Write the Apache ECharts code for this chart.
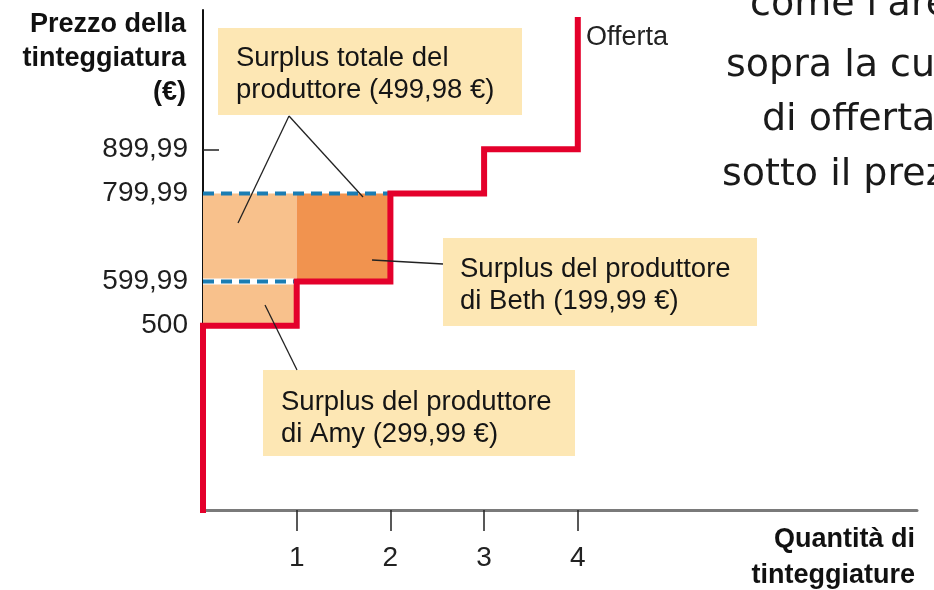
<!DOCTYPE html>
<html>
<head>
<meta charset="utf-8">
<script src="https://cdn.jsdelivr.net/npm/echarts@6/dist/echarts.min.js"></script>
<style>html,body{margin:0;padding:0;background:#fff;}#c{width:934px;height:590px;}</style>
</head>
<body>
<div id="c"></div>
<script>
// ---- data ----
const sellers = ['Amy', 'Beth', 'Venditore 3', 'Venditore 4'];
const costs = [500, 599.99, 799.99, 899.99];       // cost of each seller (supply steps)
const marketPrice = 799.99;
const supplyStart = 0;                              // price where the curve starts (axis)
const supplyEnd = 1200;                             // price where the curve ends (top)
const xTickValues = [1, 2, 3, 4];
const yTickValues = [500, 599.99, 799.99, 899.99];
const yTickLabels = ['500', '599,99', '799,99', '899,99'];
const surplusAreas = [ // [qFrom, qTo, priceFrom, priceTo]
  [0, 1, 500, 799.99],
  [1, 2, 599.99, 799.99]
];
const surplusColors = ['#F8C18C', '#F1934F'];

// supply step curve built from costs
const supply = [[0, supplyStart]];
costs.forEach((c, i) => { supply.push([i, c]); supply.push([i + 1, c]); });
supply.push([costs.length, supplyEnd]);

const FONT = 'Liberation Sans, Arial, sans-serif';
const SIDE = '38px DejaVu Sans, sans-serif';
const chart = echarts.init(document.getElementById('c'), null, {renderer: 'canvas'});

function box(x, y, w, h, lines, tx, ty) {
  return [
    {type: 'rect', shape: {x: x, y: y, width: w, height: h}, style: {fill: '#FDE7B4'}, z: 10},
    {type: 'text', x: tx, y: ty, z: 11, style: {text: lines, font: '27.5px ' + FONT, fill: '#151515',
      lineHeight: 32, verticalAlign: 'top', align: 'left'}}
  ];
}
function lead(x1, y1, x2, y2) {
  return {type: 'line', shape: {x1: x1, y1: y1, x2: x2, y2: y2}, z: 12,
    style: {stroke: '#222', lineWidth: 1.3}};
}

const option = {
  animation: false,
  backgroundColor: '#fff',
  textStyle: {fontFamily: FONT},
  grid: {left: 203, top: 10, right: 17, bottom: 80, containLabel: false, outerBoundsMode: 'none'},
  xAxis: {
    type: 'value', min: 0, max: 7.62,
    name: 'Quantità di\ntinteggiature', nameLocation: 'end', nameGap: 0,
    nameTextStyle: {fontFamily: FONT, fontWeight: 'bold', fontSize: 27, color: '#111', align: 'right',
      verticalAlign: 'top', lineHeight: 36, padding: [12, 2, 0, 0]},
    axisLine: {lineStyle: {color: '#7a7a7a', width: 3}},
    axisTick: {show: true, customValues: xTickValues, length: 21, inside: false,
      lineStyle: {color: '#222', width: 1.5}},
    axisLabel: {customValues: xTickValues, fontSize: 28, color: '#222', margin: 34, fontFamily: FONT},
    splitLine: {show: false}
  },
  yAxis: {
    type: 'value', min: 82, max: 1216,
    name: 'Prezzo della\ntinteggiatura\n(€)', nameLocation: 'end', nameGap: 2,
    nameTextStyle: {fontFamily: FONT, fontWeight: 'bold', fontSize: 27, color: '#111', align: 'right',
      verticalAlign: 'top', lineHeight: 34, padding: [0, 17, 0, 0]},
    axisLine: {show: true, lineStyle: {color: '#111', width: 2}},
    axisTick: {show: true, inside: true, customValues: [899.99], length: 16,
      lineStyle: {color: '#222', width: 1.5}},
    axisLabel: {customValues: yTickValues, fontSize: 28, color: '#1e1e1e', margin: 15, fontFamily: FONT,
      formatter: v => { const i = yTickValues.findIndex(t => Math.abs(t - v) < 1e-6); return i >= 0 ? yTickLabels[i] : ''; }},
    splitLine: {show: false}
  },
  series: [
    {
      type: 'custom', silent: true, z: 1,
      data: surplusAreas,
      renderItem: (params, api) => {
        const a = api.coord([api.value(0), api.value(3)]);
        const b = api.coord([api.value(1), api.value(2)]);
        return {type: 'rect', shape: {x: a[0], y: a[1], width: b[0] - a[0], height: b[1] - a[1]},
          style: {fill: surplusColors[params.dataIndex]}};
      }
    },
    {type: 'line', silent: true, z: 2, showSymbol: false, data: [[0, costs[1]], [1, costs[1]]],
      lineStyle: {color: '#ffffff', width: 6}},
    {type: 'line', silent: true, z: 3, showSymbol: false, data: [[0, costs[1]], [1, costs[1]]],
      lineStyle: {color: '#1B7DB3', width: 4, type: [11, 7]}},
    {type: 'line', silent: true, z: 3, showSymbol: false, data: [[0, marketPrice], [2, marketPrice]],
      lineStyle: {color: '#1B7DB3', width: 4, type: [11, 7]}},
    {type: 'line', name: 'Offerta', silent: true, z: 4, showSymbol: false, data: supply, clip: true,
      lineStyle: {color: '#E4002B', width: 6, join: 'miter', cap: 'butt'}}
  ],
  graphic: [
    {type: 'text', x: 586, y: 38, z: 11, style: {text: 'Offerta', font: '27px ' + FONT, fill: '#222',
      verticalAlign: 'middle', align: 'left'}},
    ...box(218, 28, 304, 87, 'Surplus totale del\nproduttore (499,98 €)', 236, 42),
    ...box(443, 238, 314, 88, 'Surplus del produttore\ndi Beth (199,99 €)', 460, 253),
    ...box(263, 370, 312, 86, 'Surplus del produttore\ndi Amy (299,99 €)', 281, 386),
    lead(289, 116, 238, 223),
    lead(289, 116, 363, 197),
    lead(372, 260, 443, 264),
    lead(265, 305, 297, 370),
    {type: 'text', x: 750, y: 5, z: 11, style: {text: "come l'area", font: SIDE, fill: '#1a1a1a', verticalAlign: 'middle'}},
    {type: 'text', x: 726, y: 66, z: 11, style: {text: 'sopra la curva', font: SIDE, fill: '#1a1a1a', verticalAlign: 'middle'}},
    {type: 'text', x: 762, y: 120, z: 11, style: {text: 'di offerta e', font: SIDE, fill: '#1a1a1a', verticalAlign: 'middle'}},
    {type: 'text', x: 722, y: 175, z: 11, style: {text: 'sotto il prezzo', font: SIDE, fill: '#1a1a1a', verticalAlign: 'middle'}}
  ]
};
chart.setOption(option);
</script>
</body>
</html>
